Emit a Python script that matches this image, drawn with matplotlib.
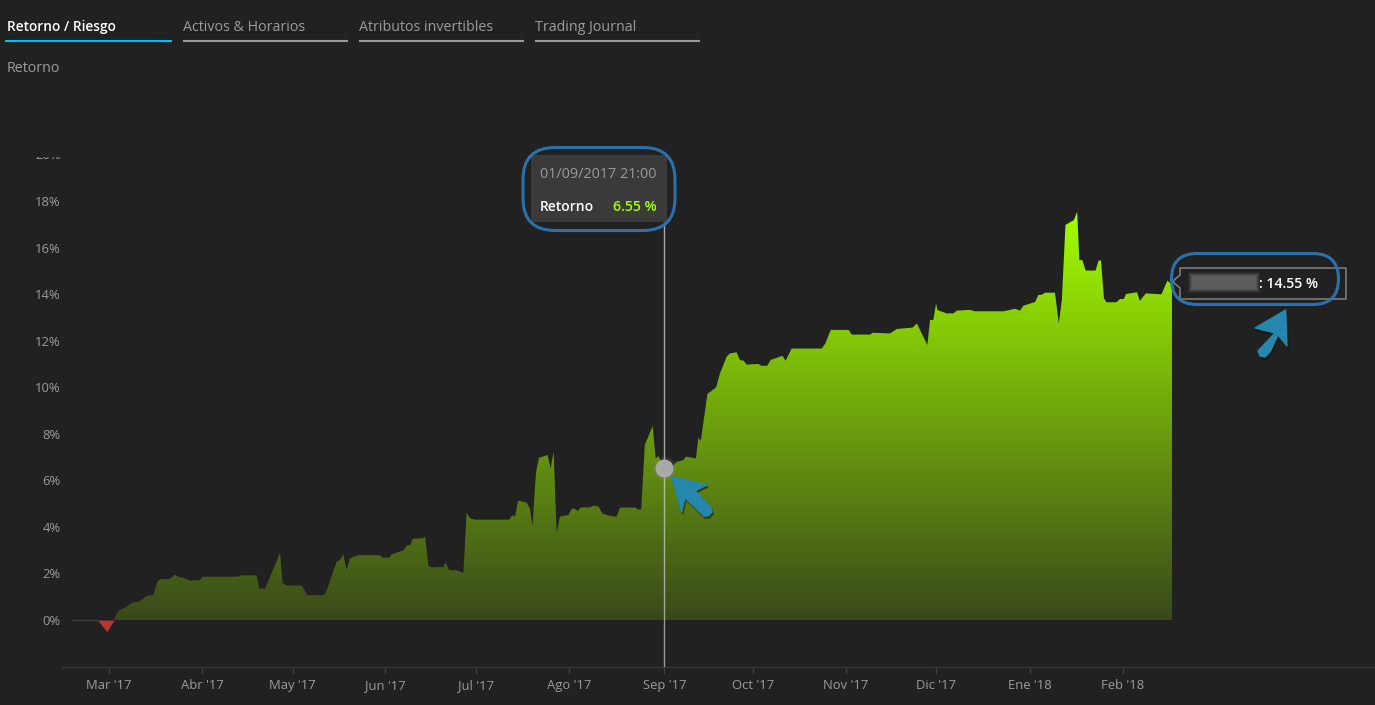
import numpy as np
import matplotlib.pyplot as plt
from matplotlib.colors import LinearSegmentedColormap
from matplotlib.patches import FancyBboxPatch, Polygon, Rectangle
from matplotlib.transforms import Bbox, TransformedBbox

plt.rcParams['font.family'] = ['Open Sans', 'DejaVu Sans']

BG = '#212121'
GREY = '#9b9b9b'
LIME = '#a4ff00'
BLUE = '#2a72ae'
ARROW = '#2687ae'

# days since 1 Mar 2017, return in %
days = [-12.0, -3.5, -0.4, 2.0, 3.4, 6.2, 7.3, 9.0, 10.4, 13.1,
        15.1, 16.4, 17.5, 20.4, 22.3, 23.4, 24.8, 27.3, 30.4, 31.5,
        43.3, 44.4, 49.4, 50.3, 52.2, 57.2, 58.0, 59.2, 64.4, 66.2,
        71.6, 72.4, 76.0, 77.1, 78.2, 79.3, 80.4, 83.2, 90.4, 91.3,
        93.5, 94.3, 98.1, 99.3, 100.4, 101.3, 104.8, 105.4, 106.5, 107.6,
        111.4, 112.2, 113.3, 115.9, 117.0, 118.1, 119.2, 120.3, 122.0, 133.4,
        134.3, 135.3, 136.3, 139.1, 140.2, 141.1, 142.2, 143.2, 146.1, 147.1,
        148.1, 149.1, 150.2, 153.0, 154.1, 155.2, 156.2, 157.1, 160.2, 161.3,
        163.0, 164.3, 166.8, 169.0, 170.2, 175.4, 176.0, 177.2, 178.4, 181.0,
        182.0, 182.9, 183.7, 184.9, 187.3, 189.0, 191.2, 192.1, 195.4, 196.2,
        197.0, 199.2, 202.1, 203.4, 205.6, 206.7, 208.9, 210.0, 211.2, 212.3,
        216.1, 217.2, 219.1, 220.2, 224.1, 225.2, 227.2, 237.2, 238.4, 240.2,
        246.1, 247.2, 253.3, 254.1, 259.9, 262.1, 267.4, 268.8, 272.3, 273.2,
        274.3, 275.2, 275.6, 278.7, 281.0, 282.1, 286.5, 288.1, 297.6, 301.4,
        303.1, 304.2, 308.1, 309.2, 310.3, 311.4, 314.7, 316.0, 317.0, 318.2,
        321.0, 322.1, 322.8, 323.8, 324.9, 328.2, 329.2, 330.0, 331.0, 331.8,
        335.2, 336.3, 337.6, 338.3, 342.0, 342.9, 344.9, 350.1, 352.1, 353.6]
returns = [0.0, 0.0, -0.5, 0.0, 0.39, 0.57, 0.69, 0.77, 0.79, 1.05,
           1.07, 1.65, 1.76, 1.76, 1.95, 1.85, 1.82, 1.70, 1.70, 1.86,
           1.86, 1.92, 1.92, 1.35, 1.35, 2.89, 1.58, 1.49, 1.47, 1.07,
           1.07, 1.17, 2.51, 2.58, 2.82, 2.15, 2.65, 2.79, 2.78, 2.68,
           2.68, 2.82, 2.99, 3.19, 3.22, 3.49, 3.51, 3.58, 2.33, 2.26,
           2.28, 2.48, 2.15, 2.13, 2.08, 2.02, 4.61, 4.37, 4.31, 4.31,
           4.50, 4.44, 5.13, 5.04, 4.80, 4.05, 6.30, 6.96, 7.09, 6.51,
           7.23, 3.75, 4.44, 4.51, 4.78, 4.78, 4.68, 4.84, 4.84, 4.91,
           4.87, 4.58, 4.47, 4.44, 4.83, 4.83, 4.75, 4.74, 7.52, 8.33,
           6.94, 7.04, 6.84, 6.55, 6.56, 6.80, 6.87, 7.02, 6.94, 7.83,
           7.69, 9.71, 9.99, 10.6, 11.31, 11.45, 11.5, 11.17, 11.14, 10.97,
           11.0, 10.92, 10.92, 11.17, 11.35, 11.14, 11.66, 11.66, 11.88, 12.46,
           12.46, 12.26, 12.26, 12.34, 12.31, 12.5, 12.56, 12.74, 11.81, 12.89,
           12.89, 13.60, 13.32, 13.17, 13.17, 13.29, 13.32, 13.26, 13.26, 13.37,
           13.29, 13.50, 13.66, 13.96, 13.97, 14.06, 14.06, 12.74, 13.75, 16.97,
           17.18, 17.54, 15.46, 15.46, 15.01, 15.01, 15.44, 15.44, 13.82, 13.65,
           13.65, 13.79, 13.79, 14.0, 14.08, 13.70, 14.03, 13.99, 14.58, 14.39]

# ticks sit on the first data point of each month, not on midnight
month_days = [0.2, 31.3, 61.4, 92.2, 122.4, 153.3, 184.9, 214.4, 245.3, 275.2, 306.3, 337.2]
month_labels = ["Mar '17", "Abr '17", "May '17", "Jun '17", "Jul '17", "Ago '17",
                "Sep '17", "Oct '17", "Nov '17", "Dic '17", "Ene '18", "Feb '18"]
pct_ticks = [0, 2, 4, 6, 8, 10, 12, 14, 16, 18, 20]
tabs = ['Retorno / Riesgo', 'Activos & Horarios', 'Atributos invertibles', 'Trading Journal']

hover_day = 184.875
hover_value = 6.55

W, H = 1375, 705
fig = plt.figure(figsize=(W / 100, H / 100), dpi=100, facecolor=BG)

# pixel mapping: day 0 at x=108 (3.009 px/day), 0% at y=620 (23.28 px per %)
ax_left, ax_bottom, ax_top = 62, 667, 150
ax = fig.add_axes([ax_left / W, 1 - ax_bottom / H, (W - ax_left) / W, (ax_bottom - ax_top) / H])
ax.set_facecolor(BG)

days = np.array(days)
returns = np.array(returns)
start = list(days).index(2.0)

# flat stub before the start, red dip, then the gradient area
ax.plot(days[:2], returns[:2], color='#3c3c3c', lw=1)
ax.fill_between(days[1:start + 1], returns[1:start + 1], 0, color='#b93434', lw=0)

area = ax.fill_between(days[start:], returns[start:], 0, color='none', lw=0)
cmap = LinearSegmentedColormap.from_list('ret', ['#39491a', '#a4ff00'])
grad = np.linspace(1, 0, 256).reshape(-1, 1)
im = ax.imshow(grad, cmap=cmap, aspect='auto', extent=(days[start], days[-1], 0, 17.6), zorder=2)
im.set_clip_path(area.get_paths()[0], transform=ax.transData)

ax.set_xlim((ax_left - 108) / 3.009, (W - 108) / 3.009)
ax.set_ylim((620 - ax_bottom) / 23.28, (620 - ax_top) / 23.28)

ax.plot([hover_day, hover_day], [hover_value, 17.04], color='#a8a8a8', lw=1, zorder=3)
ax.plot([hover_day, hover_day], [(620 - ax_bottom) / 23.28, hover_value], color='#e8e8e8', alpha=0.6, lw=1, zorder=3)
ax.plot([hover_day], [hover_value], 'o', ms=17, color='#8a8a8a', alpha=0.18, mew=0, zorder=4)
ax.plot([hover_day], [hover_value], 'o', ms=13, color='#a9a9a9', mew=0, zorder=5)

for side in ['top', 'right', 'left']:
    ax.spines[side].set_visible(False)
ax.spines['bottom'].set_color('#3a3a3a')
ax.set_xticks(month_days, month_labels)
ax.set_yticks(pct_ticks, [f'{p}%' for p in pct_ticks])
ax.tick_params(axis='x', colors='#3f3f3f', length=5, width=1, labelcolor=GREY, labelsize=9.4, pad=3.5)
ax.tick_params(axis='y', length=0, labelcolor=GREY, labelsize=9.4, pad=1)

# the 20% label is cut off at the top in the original
clip = TransformedBbox(Bbox([[0, 0], [1, 1 - 157 / H]]), fig.transFigure)
for lab in ax.get_yticklabels():
    if lab.get_text() == '20%':
        lab.set_clip_box(clip)
        lab.set_clip_on(True)

# overlay in pixel coordinates for tabs, tooltip and drawn-on callouts
ov = fig.add_axes([0, 0, 1, 1], facecolor='none')
ov.set_xlim(0, W)
ov.set_ylim(H, 0)
ov.axis('off')

tab_x = [7, 183, 359, 535]
line_x = [(5, 172), (183, 348), (359, 524), (535, 700)]
for i, name in enumerate(tabs):
    active = i == 0
    ov.text(tab_x[i], 31, name, color='white' if active else GREY, fontsize=9.9 if active else 10.25,
            weight='semibold' if active else 'normal', va='baseline', ha='left')
    ov.plot(line_x[i], [41, 41], color='#00bff3' if active else '#9a9a9a', lw=1.5, solid_capstyle='butt')
ov.text(7, 72, 'Retorno', color=GREY, fontsize=10.3, va='baseline', ha='left')

# tooltip
ov.add_patch(Rectangle((531, 155), 136, 67, color='#3a3a3a', lw=0))
ov.text(540, 178, '01/09/2017 21:00', color=GREY, fontsize=10.35, va='baseline', ha='left')
ov.text(540, 211, 'Retorno', color='white', fontsize=10.0, weight='semibold', va='baseline', ha='left')
ov.text(657, 211, '6.55 %', color=LIME, fontsize=10.2, weight='semibold', va='baseline', ha='right')
ov.add_patch(FancyBboxPatch((546, 170.5), 106, 37, boxstyle='round,pad=23,rounding_size=32',
                            fc='none', ec=BLUE, lw=2.2))

# last value label, name blurred out in the original
ov.add_patch(Polygon([(1180, 268), (1346, 268), (1346, 299), (1180, 299), (1180, 288), (1174, 283),
                      (1174, 280), (1180, 275)], closed=True, fc=BG, ec='#8a8a8a', lw=1))
for grow, tone in [(2, 0.15), (1, 0.25), (0, 0.4), (-1, 0.6), (-2, 1.0)]:
    ov.add_patch(Rectangle((1190 - grow, 274 - grow), 68 + 2 * grow, 17 + 2 * grow, color='#5c5c5c',
                           alpha=tone, lw=0))
ov.text(1259, 288, ': 14.55 %', color='white', fontsize=10.2, weight='semibold', va='baseline', ha='left')
ov.add_patch(FancyBboxPatch((1197, 279), 116, 0, boxstyle='round,pad=25.5,rounding_size=25.5',
                            fc='none', ec=BLUE, lw=2.2))

# hand drawn arrows
arrow_left = [(671.7, 476.7), (706.7, 485), (695, 490.7), (711, 508), (712, 512), (708, 516), (704, 516),
              (685, 497.7), (681.7, 511.7)]
arrow_right = [(1285.7, 310), (1287, 346), (1278, 335), (1270, 352), (1265, 357), (1260, 356), (1258, 351),
               (1275, 333), (1255, 328)]
for pts in [arrow_left, arrow_right]:
    shadow = [(x + 1, y + 2) for x, y in pts]
    ov.add_patch(Polygon(shadow, closed=True, fc='#101010', ec='#101010', alpha=0.4, lw=1.5, joinstyle='round'))
    ov.add_patch(Polygon(pts, closed=True, fc=ARROW, ec=ARROW, lw=1, joinstyle='round'))

fig.savefig('out.png', dpi=100, facecolor=BG)
